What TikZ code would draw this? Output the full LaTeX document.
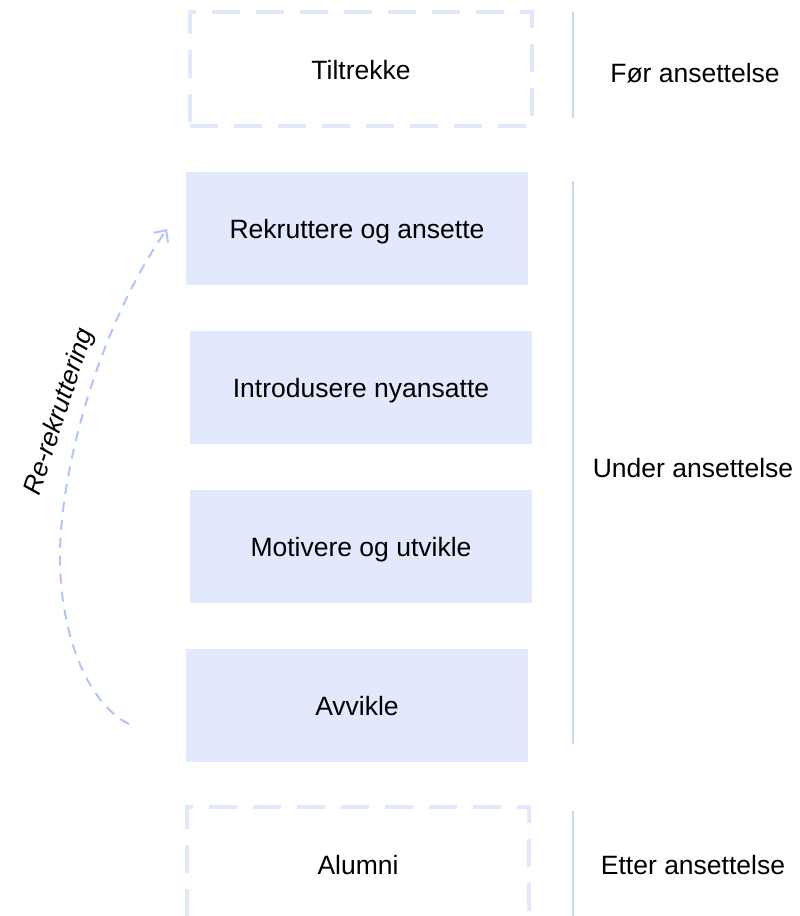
\documentclass[tikz,border=0pt]{standalone}
\usepackage{fontspec}
\setmainfont{Liberation Sans}
\usetikzlibrary{arrows.meta}
\definecolor{boxfill}{HTML}{E3E9FD}
\definecolor{dashcol}{HTML}{E2E8FC}
\definecolor{arrowcol}{HTML}{AFC4FA}
\definecolor{linecol}{HTML}{C9D5F7}
\tikzset{
  stagetext/.style={font=\fontsize{26.5}{30}\selectfont, text height=20pt, text depth=0pt},
  stagebox/.style={stagetext, fill=boxfill, draw=none, minimum width=342pt, minimum height=113pt, inner sep=0pt},
  dashbox/.style={stagetext, draw=dashcol, line width=4pt, dash pattern=on 28pt off 16pt, minimum width=342pt, minimum height=114pt, inner sep=0pt},
  phaselabel/.style={stagetext, inner sep=0pt},
  phaseline/.style={draw=linecol, line width=2pt},
  rearrow/.style={draw=arrowcol, line width=2pt, dash pattern=on 10pt off 8pt, -{Straight Barb[length=9pt,width=17pt,line width=2pt]}}
}
\begin{document}
\begin{tikzpicture}[x=1pt,y=-1pt]
\useasboundingbox (0,0) rectangle (800,916);
\clip (0,0) rectangle (800,916);
\node[dashbox] (tiltrekke) at (361,69) {Tiltrekke};
\node[stagebox] (rekruttere) at (357,228) {Rekruttere og ansette};
\node[stagebox] (introdusere) at (361,387) {Introdusere nyansatte};
\node[stagebox] (motivere) at (361,546) {Motivere og utvikle};
\node[stagebox] (avvikle) at (357,705) {Avvikle};
\node[dashbox] (alumni) at (358,864) {Alumni};

\node[phaselabel] (foer) at (695,72) {Før ansettelse};
\node[phaselabel] (under) at (693,467) {Under ansettelse};
\node[phaselabel] (etter) at (693,864) {Etter ansettelse};

\coordinate (l1a) at (573,12);
\coordinate (l1b) at (573,118);
\coordinate (l2a) at (573,181);
\coordinate (l2b) at (573,744);
\coordinate (l3a) at (573,811);
\coordinate (l3b) at (573,916);
\draw[phaseline] (l1a) -- (l1b);
\draw[phaseline] (l2a) -- (l2b);
\draw[phaseline] (l3a) -- (l3b);

\coordinate (arrstart) at (129,724);
\coordinate (arrmid) at (60,560);
\coordinate (arrend) at (167,229);
\draw[rearrow] (arrstart) .. controls (90,705) and (61,640) .. (arrmid)
  .. controls (59,470) and (100,325) .. (arrend);
\node[inner sep=0pt, rotate=72, font=\fontsize{26}{30}\selectfont\itshape] (rerek) at (60,412) {Re-rekruttering};
\end{tikzpicture}
\end{document}
